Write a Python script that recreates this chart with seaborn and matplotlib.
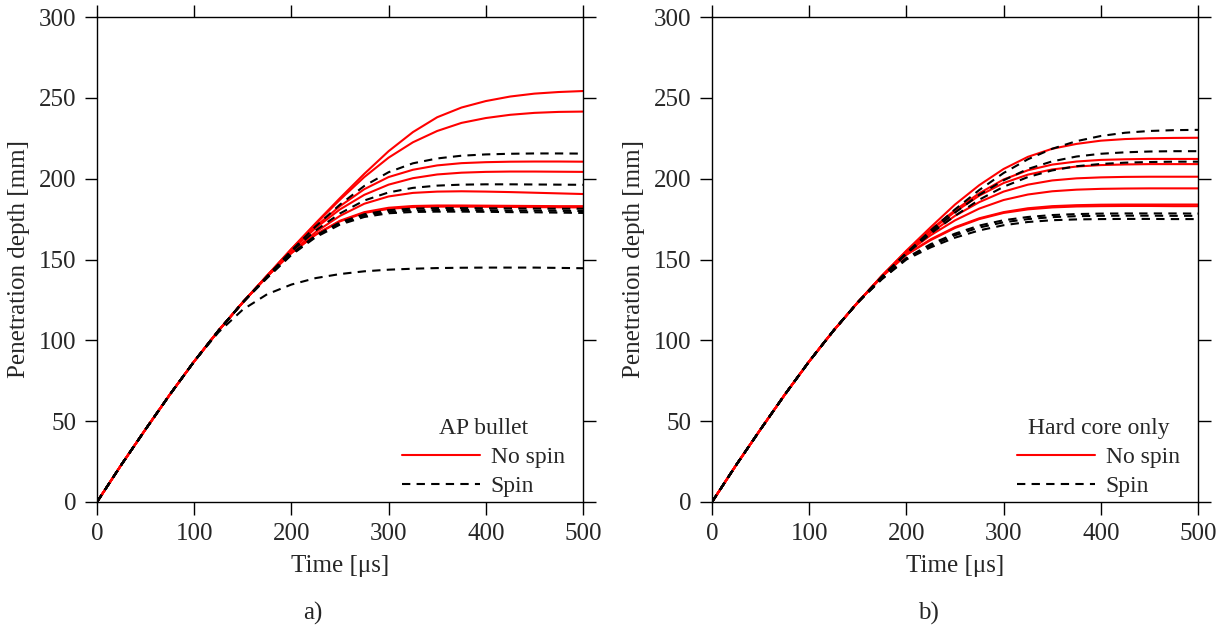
import matplotlib
matplotlib.use("Agg")
import matplotlib.pyplot as plt
from matplotlib.lines import Line2D
import seaborn as sns
import pandas as pd

# time axis [us]
t_trunk = [0, 25, 50, 75, 100, 125, 150]
t_tail = [175, 200, 225, 250, 275, 300, 325, 350, 375, 400, 425, 450, 475, 500]
# shared early part of the penetration curves [mm]
trunk = [0, 23, 45, 66.5, 87, 106, 123.5]

# a) AP bullet, tails from 175 us
a_nospin = [
    [140, 156.5, 172.5, 188, 203, 217, 228.8, 238, 244, 248, 250.8, 252.6, 253.6, 254.2],
    [140, 156.5, 172, 187, 201, 213, 222.5, 229.5, 234.5, 237.5, 239.5, 240.7, 241.3, 241.5],
    [140, 156, 170.5, 183, 193.5, 201, 205.5, 208.2, 209.6, 210.2, 210.5, 210.6, 210.6, 210.5],
    [140, 155.5, 169.5, 181, 190, 196.3, 200.3, 202.6, 203.7, 204.2, 204.4, 204.4, 204.3, 204.2],
    [139.5, 154.5, 167, 177, 184.5, 189, 191.2, 192, 192.2, 192, 191.7, 191.3, 190.9, 190.5],
    [139.5, 154, 165.5, 174, 179.3, 182, 183.1, 183.4, 183.4, 183.3, 183.2, 183.1, 183, 183],
    [139.5, 154, 165.3, 173.6, 178.8, 181.3, 182.4, 182.7, 182.7, 182.6, 182.5, 182.4, 182.3, 182.2],
]
a_spin = [
    [139.5, 155.5, 170.5, 184, 195.5, 204, 209.5, 212.5, 214.2, 215, 215.4, 215.6, 215.6, 215.5],
    [139.5, 155, 168, 178.5, 186.5, 191.5, 194.3, 195.7, 196.3, 196.5, 196.5, 196.4, 196.3, 196.2],
    [139, 153.5, 164.8, 173, 178, 180.5, 181.5, 181.8, 181.8, 181.7, 181.6, 181.5, 181.4, 181.4],
    [139, 153.2, 164.3, 172.3, 177.2, 179.5, 180.4, 180.6, 180.6, 180.5, 180.3, 180.2, 180.1, 180],
    [138.5, 152.8, 163.8, 171.6, 176.3, 178.6, 179.4, 179.6, 179.6, 179.5, 179.3, 179.2, 179, 178.8],
]
# this one leaves the common path early, so keep it whole
a_spin_low = [0, 23, 45, 66.5, 87, 105, 119, 128.5, 134.5, 138.5, 141, 142.7, 143.7,
              144.3, 144.7, 144.9, 145, 145, 145, 144.8, 144.6]

# b) hard core only
b_nospin = [
    [140, 155.5, 170, 184, 196, 206, 213.5, 218.5, 221.5, 223.5, 224.5, 225, 225.2, 225.3],
    [140, 155, 168.5, 180.5, 191, 199.5, 205.2, 208.7, 210.6, 211.6, 212, 212.2, 212.2, 212.2],
    [140, 155, 168, 179.5, 189.5, 197.3, 202.5, 205.7, 207.5, 208.4, 208.8, 209, 209, 209],
    [140, 154.5, 166.5, 177, 185.5, 192, 196.3, 198.9, 200.2, 200.8, 201.1, 201.2, 201.2, 201.2],
    [139.5, 154, 165, 174.2, 181.5, 186.8, 190.2, 192.2, 193.2, 193.7, 193.9, 194, 194, 194],
    [139.5, 153, 162.5, 170, 175.5, 179.3, 181.7, 183, 183.6, 183.9, 184, 184, 184, 184],
    [139.5, 153, 162, 169.5, 175, 178.8, 181, 182.2, 182.8, 183, 183.1, 183.1, 183, 183],
]
b_spin = [
    [139.5, 154, 168, 181, 193, 203.5, 212, 218.5, 223.2, 226.4, 228.4, 229.5, 230, 230.2],
    [139.5, 154, 167, 179, 190, 199, 206, 210.7, 213.7, 215.4, 216.3, 216.8, 217, 217],
    [139, 153.5, 166, 177, 187, 195, 201, 205.1, 207.7, 209.1, 209.9, 210.3, 210.5, 210.5],
    [138.5, 151, 159.5, 166, 171, 174.3, 176.3, 177.5, 178.1, 178.4, 178.5, 178.5, 178.5, 178.4],
    [138, 150.5, 158.5, 165, 169.8, 173, 175, 176.2, 176.8, 177, 177.1, 177.1, 177, 177],
    [138, 150, 157.5, 163.5, 168, 171.2, 173.2, 174.3, 174.8, 175, 175.1, 175.1, 175, 175],
]

panel_titles = ["AP bullet", "Hard core only"]
captions = ["a)", "b)"]


def to_frame(nospin, spin, extra_spin=None):
    rows = []
    t_full = t_trunk + t_tail
    run = 0
    for case, curves in (("No spin", nospin), ("Spin", spin)):
        for tail in curves:
            for t, d in zip(t_full, trunk + tail):
                rows.append((t, d, case, run))
            run += 1
    if extra_spin is not None:
        for t, d in zip(t_full, extra_spin):
            rows.append((t, d, "Spin", run))
    return pd.DataFrame(rows, columns=["time", "depth", "case", "run"])


frames = [to_frame(a_nospin, a_spin, a_spin_low), to_frame(b_nospin, b_spin)]

sns.set_style("ticks")
plt.rcParams["font.family"] = ["Liberation Serif", "DejaVu Serif"]

FS = 18
LFS = 17
fig = plt.figure(figsize=(12.23, 6.33), dpi=100)
lefts = [97 / 1223, 712 / 1223]
width = 486 / 1223
bottom = 1 - 502 / 633
height = 485 / 633

palette = {"No spin": "red", "Spin": "black"}
dashes = {"No spin": "", "Spin": (4, 3)}

for i, df in enumerate(frames):
    ax = fig.add_axes([lefts[i], bottom, width, height])
    sns.lineplot(data=df, x="time", y="depth", hue="case", style="case", units="run",
                 estimator=None, palette=palette, dashes=dashes, linewidth=1.5,
                 legend=False, ax=ax)
    ax.set_xlim(0, 500)
    ax.set_ylim(0, 300)
    ax.set_xticks(range(0, 501, 100))
    ax.set_yticks(range(0, 301, 50))
    ax.tick_params(direction="out", length=9, width=1, top=True, right=True,
                   labelsize=FS, color="black", pad=6)
    for s in ax.spines.values():
        s.set_visible(True)
        s.set_linewidth(1)
        s.set_color("black")
    ax.set_xlabel("Time [μs]", fontsize=FS, labelpad=7)
    ax.set_ylabel("Penetration depth [mm]", fontsize=FS, labelpad=6)

    handles = [Line2D([], [], color="red", lw=1.5),
               Line2D([], [], color="black", lw=1.5, dashes=(4, 3))]
    ax.legend(handles, ["No spin", "Spin"], title=panel_titles[i],
              loc="lower right", bbox_to_anchor=(0.972, 0.0), frameon=False,
              fontsize=LFS, title_fontsize=LFS, handlelength=3.3,
              handletextpad=0.45, labelspacing=0.32, borderaxespad=0, borderpad=0.2)

    fig.text((lefts[i] * 1223 + 216) / 1223, 1 - 613 / 633, captions[i],
             fontsize=FS, ha="center", va="center")

fig.savefig("out.png", dpi=100)
